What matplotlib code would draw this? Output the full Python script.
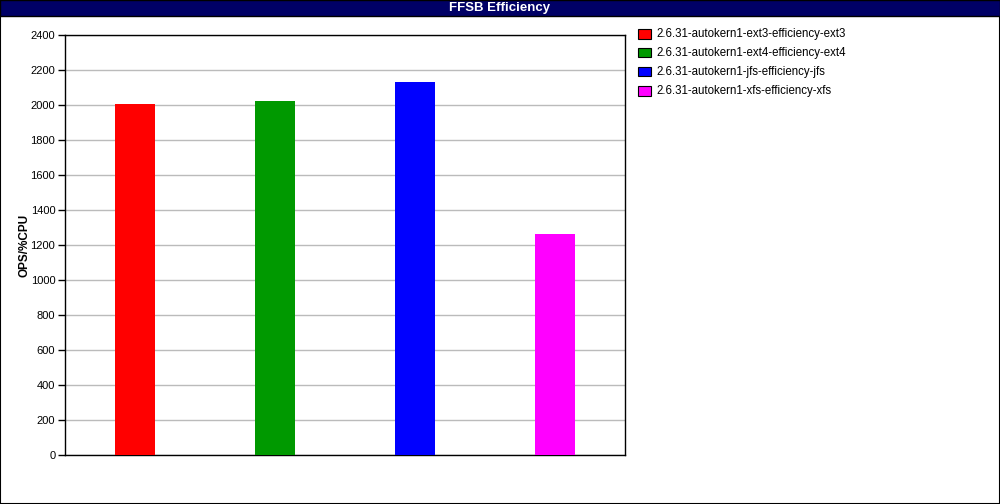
import matplotlib
matplotlib.use('Agg')
import matplotlib.pyplot as plt
from matplotlib.patches import Rectangle

# データ
labels = ['2.6.31-autokern1-ext3-efficiency-ext3',
          '2.6.31-autokern1-ext4-efficiency-ext4',
          '2.6.31-autokern1-jfs-efficiency-jfs',
          '2.6.31-autokern1-xfs-efficiency-xfs']
values = [2006, 2023, 2131, 1263]
colors = ['#ff0000', '#009900', '#0000ff', '#ff00ff']
yticks = list(range(0, 2401, 200))

plt.rcParams['font.family'] = ['Liberation Sans', 'DejaVu Sans']

fig = plt.figure(figsize=(10, 5.04), dpi=100)
W, H = 1000, 504

# 外枠とタイトルバー
fig.patches.append(Rectangle((0, 0), 1, 1, transform=fig.transFigure,
                             fill=False, edgecolor='black', linewidth=1.5))
fig.patches.append(Rectangle((0, 1 - 16 / H), 1, 16 / H, transform=fig.transFigure,
                             facecolor='#000066', edgecolor='black', linewidth=1))
fig.text(0.5, 1 - 8.5 / H, 'FFSB Efficiency', color='white', fontweight='bold',
         fontsize=9.5, ha='center', va='center')

ax = fig.add_axes([65 / W, 1 - 455 / H, 560 / W, 420 / H])
x = range(len(values))
ax.bar(x, values, width=40 / 140, color=colors, zorder=3)
ax.set_xlim(-0.5, 3.5)
ax.set_ylim(0, 2400)
ax.set_yticks(yticks)
ax.set_xticks([])
ax.yaxis.grid(True, color='#bbbbbb', linewidth=1, zorder=0)
ax.tick_params(axis='y', labelsize=8, length=5, width=1, pad=2)
for s in ax.spines.values():
    s.set_linewidth(1)

# Y軸ラベル
fig.text(24 / W, 1 - 245 / H, 'OPS/%CPU', fontsize=8.5, fontweight='bold',
         rotation=90, ha='center', va='center')

# 凡例
for i, (lab, c) in enumerate(zip(labels, colors)):
    yy = 1 - (34 + i * 19) / H
    fig.patches.append(Rectangle((638 / W, yy - 4.5 / H), 13 / W, 9 / H,
                                 transform=fig.transFigure, facecolor=c,
                                 edgecolor='black', linewidth=0.8))
    fig.text(656 / W, yy, lab, fontsize=8.3, ha='left', va='center')

plt.savefig('out.png', dpi=100)
